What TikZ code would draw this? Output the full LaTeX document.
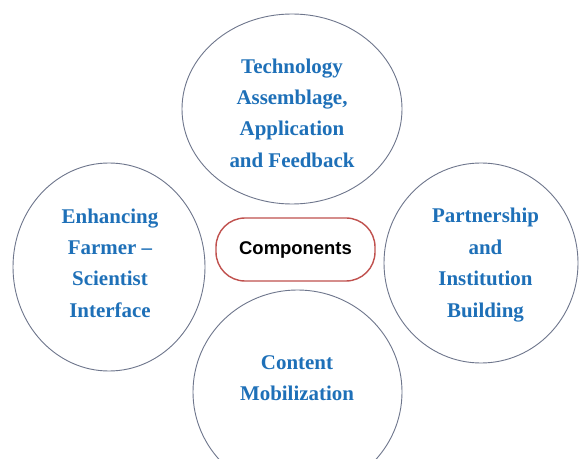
\documentclass[tikz,border=0pt]{standalone}
\usepackage{fontspec}
\usetikzlibrary{shapes.geometric}
\setmainfont{Liberation Serif}
\newfontfamily\compfont{Liberation Sans}
\definecolor{ringc}{RGB}{110,118,140}
\definecolor{bluetext}{RGB}{30,112,184}
\definecolor{redc}{RGB}{192,80,77}
\begin{document}
\begin{tikzpicture}[x=1bp,y=-1bp,
  ring/.style={draw=ringc,line width=0.9bp,ellipse,inner sep=0pt},
  ringtext/.style={align=center,text=bluetext,font=\rmfamily\bfseries\fontsize{21}{31.5}\selectfont,inner sep=0pt},
  centerbox/.style={draw=redc,line width=1.4bp,rounded corners=29bp,minimum width=159bp,minimum height=63bp,inner sep=0pt,font=\compfont\bfseries\fontsize{18.5}{22}\selectfont}]
\useasboundingbox (0,0) rectangle (580,459);
\clip (0,0) rectangle (580,459);
\fill[white] (0,0) rectangle (580,459);
\node[ring,minimum width=220bp,minimum height=190bp] (top) at (292,109) {};
\node[ring,minimum width=192bp,minimum height=208bp] (left) at (109,267) {};
\node[ring,minimum width=194bp,minimum height=200bp] (right) at (481,263) {};
\node[ring,minimum width=209bp,minimum height=204bp] (bottom) at (297.5,392) {};
\node[ringtext] (toptext) at (292,113) {Technology\\Assemblage,\\Application\\and Feedback};
\node[ringtext] (lefttext) at (110,263) {Enhancing\\Farmer –\\Scientist\\Interface};
\node[ringtext] (righttext) at (485.5,265) {Partnership\\and\\Institution\\Building};
\node[ringtext] (bottomtext) at (297,378) {Content\\Mobilization};
\node[centerbox] (comp) at (295.5,249.5) {Components};
\end{tikzpicture}
\end{document}
